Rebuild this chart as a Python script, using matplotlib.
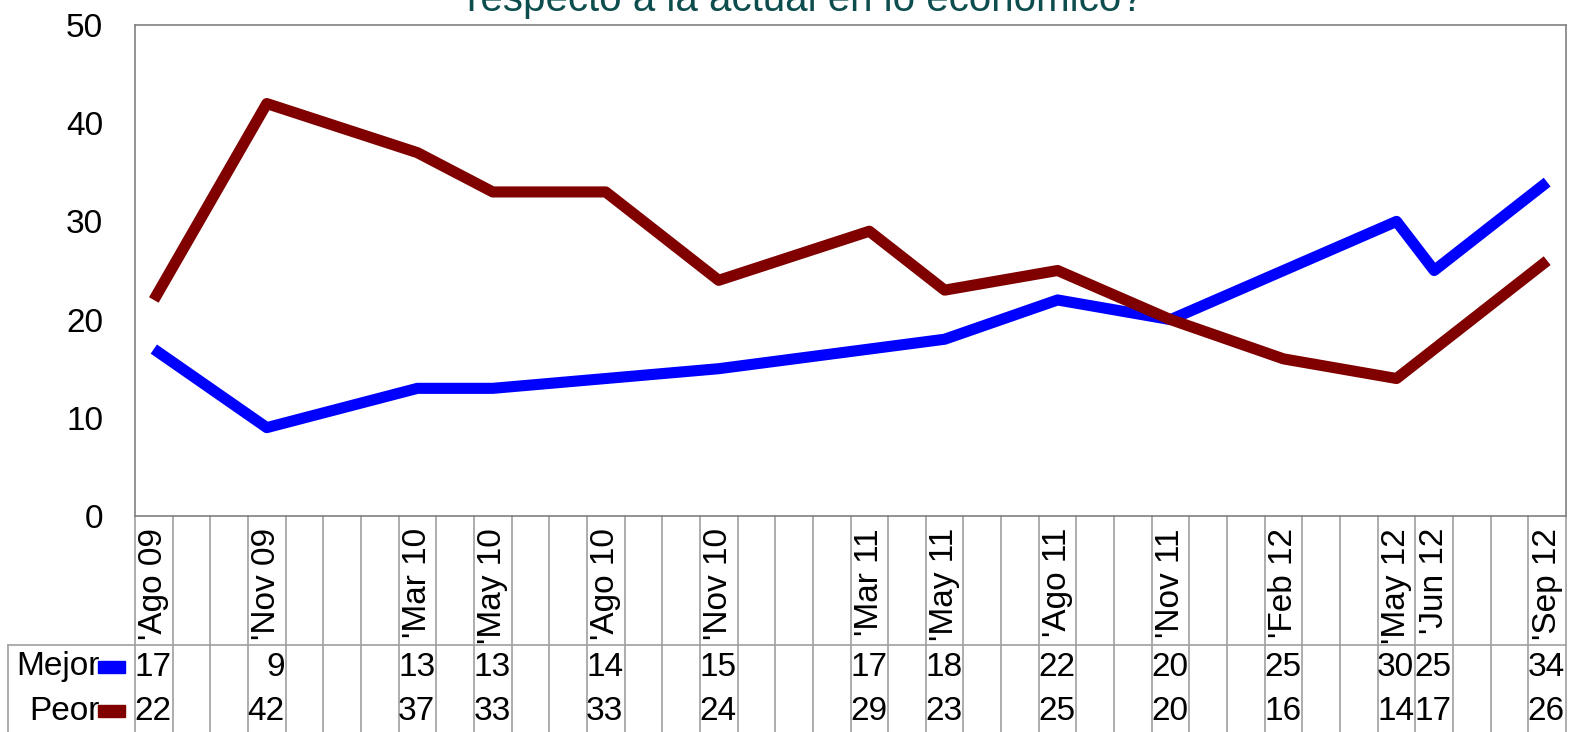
import matplotlib
matplotlib.use("Agg")
import matplotlib.pyplot as plt
import matplotlib.transforms as mtransforms

plt.rcParams['font.family'] = ['Liberation Sans', 'DejaVu Sans']

# datos de la encuesta
etiquetas = ["'Ago 09", "'Nov 09", "'Mar 10", "'May 10", "'Ago 10", "'Nov 10", "'Mar 11",
             "'May 11", "'Ago 11", "'Nov 11", "'Feb 12", "'May 12", "'Jun 12", "'Sep 12"]
fechas = [(2009, 8), (2009, 11), (2010, 3), (2010, 5), (2010, 8), (2010, 11), (2011, 3),
          (2011, 5), (2011, 8), (2011, 11), (2012, 2), (2012, 5), (2012, 6), (2012, 9)]
mejor = [17, 9, 13, 13, 14, 15, 17, 18, 22, 20, 25, 30, 25, 34]
peor = [22, 42, 37, 33, 33, 24, 29, 23, 25, 20, 16, 14, 17, 26]
titulo = "respecto a la actual en lo económico?"

# meses desde el primer sondeo
y0, m0 = fechas[0]
meses = [(a - y0) * 12 + (m - m0) for a, m in fechas]
n_cols = meses[-1] + 1
x = [m + 0.5 for m in meses]

W, H = 1576, 732
fig = plt.figure(figsize=(W / 100, H / 100), dpi=100)
left, right, top, bottom = 135, 1566, 25, 516
ax = fig.add_axes([left / W, 1 - bottom / H, (right - left) / W, (bottom - top) / H])

azul = "#0000ff"
rojo = "#800000"
gris = "#a0a0a0"
fs = 24

ax.plot(x, mejor, color=azul, lw=8, solid_joinstyle='round', solid_capstyle='butt', clip_on=False)
ax.plot(x, peor, color=rojo, lw=8, solid_joinstyle='round', solid_capstyle='butt', clip_on=False)

ax.set_xlim(0, n_cols)
ax.set_ylim(0, 50)
ax.set_yticks(range(0, 51, 10))
ax.set_xticks([])
ax.tick_params(axis='y', length=0, pad=23, labelsize=fs)
for s in ax.spines.values():
    s.set_color("#808080")
    s.set_linewidth(1.2)

fig.text(805 / W, 1 - 11 / H, titulo, color="#0d4d4d", fontsize=29, ha='center', va='baseline')

# tabla de datos bajo el eje
tr = mtransforms.blended_transform_factory(ax.transData, ax.transAxes)
h_ax = bottom - top
def ya(py):
    return (bottom - py) / h_ax

y_head_bot = ya(645)
y_end = ya(H + 5)
for i in range(n_cols + 1):
    ax.plot([i, i], [0, y_end], transform=tr, color=gris, lw=1.2, clip_on=False)
ax.plot([0, n_cols], [y_head_bot, y_head_bot], transform=tr, color=gris, lw=1.2, clip_on=False)

ftr = fig.transFigure
fig.add_artist(plt.Line2D([8 / W, left / W], [1 - 645 / H, 1 - 645 / H], transform=ftr, color=gris, lw=1.2))
fig.add_artist(plt.Line2D([8 / W, 8 / W], [1 - 645 / H, 0], transform=ftr, color=gris, lw=1.2))

for xi, lab in zip(x, etiquetas):
    ax.text(xi, ya(528), lab, transform=tr, rotation=90, ha='center', va='top', fontsize=fs)

y_m, y_p = ya(668), ya(711)
for m, vm, vp in zip(meses, mejor, peor):
    ax.text(m + 0.97, y_m, str(vm), transform=tr, ha='right', va='center', fontsize=fs)
    ax.text(m + 0.97, y_p, str(vp), transform=tr, ha='right', va='center', fontsize=fs)

for yy, nombre, col in [(667, "Mejor", azul), (711, "Peor", rojo)]:
    fig.text(100 / W, 1 - yy / H, nombre, ha='right', va='center', fontsize=fs)
    fig.add_artist(plt.Rectangle((98 / W, 1 - (yy + 6) / H), 27 / W, 12 / H,
                                 transform=ftr, color=col))

fig.savefig("out.png", dpi=100)
